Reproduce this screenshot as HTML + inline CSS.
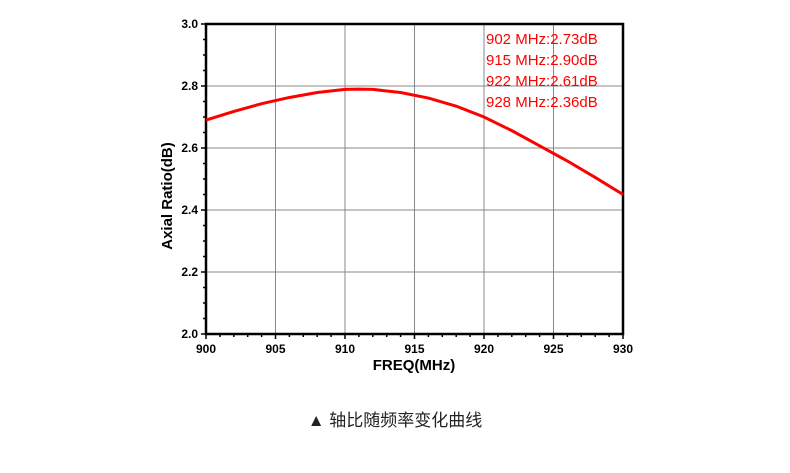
<!DOCTYPE html>
<html><head><meta charset="utf-8"><style>
body{margin:0;background:#fff;width:790px;height:468px;overflow:hidden}
svg text{font-family:"Liberation Sans",Arial,sans-serif}
</style></head><body>
<svg width="790" height="468">
<g id="grid"></g>
<g id="axes"></g>
<path id="curve" fill="none" stroke="#ff0000" stroke-width="3"></path>
<g id="legend"></g>
<text x="166" y="190" transform="rotate(-90 172 190)" text-anchor="middle" font-size="15" font-weight="bold">Axial Ratio(dB)</text>
<text x="414" y="370" text-anchor="middle" font-size="15" font-weight="bold">FREQ(MHz)</text>
<text x="395" y="426" text-anchor="middle" font-size="17" fill="#222" style="font-family:'Liberation Sans','Noto Sans CJK SC',sans-serif">▲ 轴比随频率变化曲线</text>
</svg>
<script>
const freqs=[900,902,904,906,908,910,911,912,914,916,918,920,922,924,926,928,930];
const ratios=[2.69,2.718,2.743,2.763,2.779,2.789,2.79,2.789,2.779,2.761,2.735,2.70,2.656,2.607,2.558,2.505,2.45];
const xTicks=[900,905,910,915,920,925,930];
const yTicks=[2.0,2.2,2.4,2.6,2.8,3.0];
const legendLabels=["902 MHz:2.73dB","915 MHz:2.90dB","922 MHz:2.61dB","928 MHz:2.36dB"];
const L=206,R=623,T=24,B=334;
const sx=v=>L+(v-900)/30*(R-L), sy=v=>B-(v-2)/1*(B-T);
const NS="http://www.w3.org/2000/svg";
function mk(p,tag,a){const e=document.createElementNS(NS,tag);for(const k in a)e.setAttribute(k,a[k]);p.appendChild(e);return e;}
const g=document.getElementById('grid'),ax=document.getElementById('axes');
xTicks.forEach(v=>{const x=sx(v);
 if(v>900&&v<930){const l=mk(g,'line',{x1:x,x2:x,y1:T,y2:B,stroke:'#888','stroke-width':1});
 
 }
 const t=mk(ax,'text',{x:x,y:B+19,'text-anchor':'middle','font-size':12,'font-weight':'bold'});t.textContent=v;
 
 
});
for(let v=900;v<=930;v++){const x=sx(v);mk(ax,'line',{x1:x,x2:x,y1:B,y2:B+(v%5?3:5),stroke:'#000','stroke-width':1.5});}
yTicks.forEach(v=>{const y=sy(v);
 if(v>2.01&&v<2.99){const l=mk(g,'line',{x1:L,x2:R,y1:y,y2:y,stroke:'#888','stroke-width':1});
 
 }
 const t=mk(ax,'text',{x:L-8,y:y+4,'text-anchor':'end','font-size':12,'font-weight':'bold'});t.textContent=v.toFixed(1);
 
 
});
for(let i=0;i<=20;i++){const y=sy(2+i*0.05);mk(ax,'line',{x1:L-(i%4?3:5),x2:L,y1:y,y2:y,stroke:'#000','stroke-width':1.5});}
mk(ax,'rect',{x:L,y:T,width:R-L,height:B-T,fill:'none',stroke:'#000','stroke-width':2.5});
document.getElementById('curve').setAttribute('d',freqs.map((f,i)=>(i?'L':'M')+sx(f)+','+sy(ratios[i])).join(''));
const lg=document.getElementById('legend');
legendLabels.forEach((s,i)=>{const t=mk(lg,'text',{x:486,y:44+i*21,'font-size':15,fill:'#ff0000'});t.textContent=s;
 
 });
</script>
</body></html>
